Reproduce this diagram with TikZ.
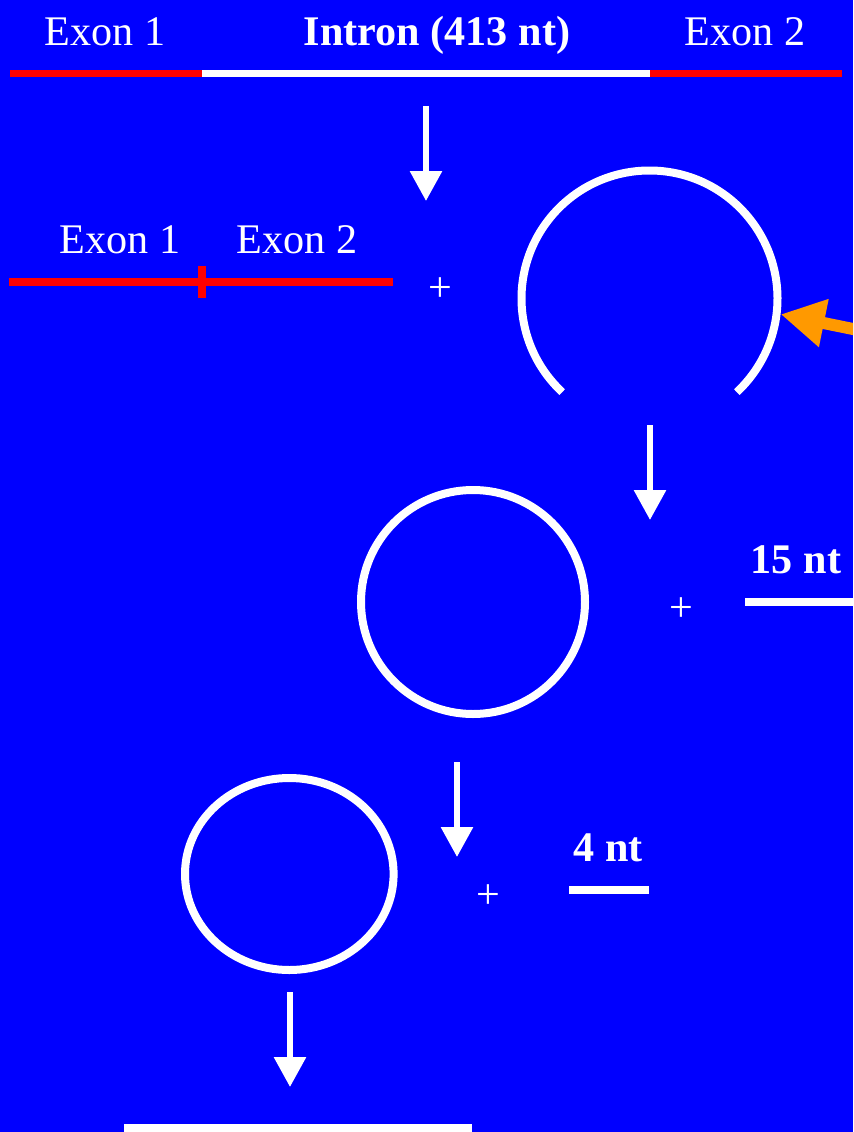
\documentclass[tikz,border=0pt]{standalone}
\usepackage{fontspec}
\setmainfont{Liberation Serif}
\usetikzlibrary{arrows.meta}
\definecolor{bgblue}{RGB}{0,0,255}
\definecolor{exred}{RGB}{255,0,0}
\definecolor{cutorange}{RGB}{255,153,0}

\begin{document}
\begin{tikzpicture}[x=0.02cm,y=-0.02cm,
  lbl/.style={text=white,inner sep=0pt,anchor=base,font=\fontsize{24}{28}\selectfont},
  blbl/.style={lbl,font=\fontsize{24}{28}\selectfont\bfseries},
  pluslbl/.style={text=white,inner sep=0pt,font=\fontsize{24}{28}\selectfont},
  rna/.style={line width=0.16cm},
  stagearrow/.style={white,line width=0.12cm,-{Triangle[length=0.6cm,width=0.62cm]}}]
  \useasboundingbox (0,0) rectangle (853,1132);
  \clip (0,0) rectangle (853,1132);
  \fill[bgblue] (0,0) rectangle (853,1132);
  % pre-rna
  \node[lbl] (exonA) at (105,46) {Exon 1};
  \node[blbl] (intron) at (437,46) {Intron (413 nt)};
  \node[lbl] (exonB) at (745,46) {Exon 2};
  \draw[exred,line width=0.15cm] (10,73.5)--(202,73.5);
  \draw[white,line width=0.15cm] (202,73.5)--(650,73.5);
  \draw[exred,line width=0.15cm] (650,73.5)--(842,73.5);
  \coordinate (s1) at (426,106); \coordinate (e1) at (426,201);
  \draw[stagearrow] (s1)--(e1);
  % spliced exons + intron
  \node[lbl] (exonC) at (120,253) {Exon 1};
  \node[lbl] (exonD) at (297,253) {Exon 2};
  \draw[exred,rna] (9,282)--(393,282);
  \draw[exred,rna] (201.5,266)--(201.5,298);
  \node[pluslbl] (p1) at (440,290) {+};
  \draw[white,rna] (649.5,298.5) ++(133:128) arc[start angle=133,end angle=407,radius=128];
  \coordinate (cut) at (780.7,314.3); \coordinate (tail) at (880,334.5);
  \draw[cutorange,line width=0.24cm,-{Triangle[length=0.88cm,width=0.92cm]}] (tail)--(cut);
  \coordinate (s2) at (650,425); \coordinate (e2) at (650,520);
  \draw[stagearrow] (s2)--(e2);
  % circle 1
  \draw[white,rna] (473,602) circle[radius=112];
  \node[pluslbl] (p2) at (681,610) {+};
  \node[blbl] (nt15) at (796,573) {15 nt};
  \draw[white,rna] (745,602)--(870,602);
  \coordinate (s3) at (457,762); \coordinate (e3) at (457,857);
  \draw[stagearrow] (s3)--(e3);
  % circle 2
  \draw[white,rna] (289.3,874) ellipse[x radius=104.3,y radius=96];
  \node[pluslbl] (p3) at (488,897) {+};
  \node[blbl] (nt4) at (608,861) {4 nt};
  \draw[white,rna] (569,890)--(649,890);
  \coordinate (s4) at (290,992); \coordinate (e4) at (290,1087);
  \draw[stagearrow] (s4)--(e4);
  % linear
  \draw[white,rna] (124,1128)--(472,1128);
\end{tikzpicture}
\end{document}
